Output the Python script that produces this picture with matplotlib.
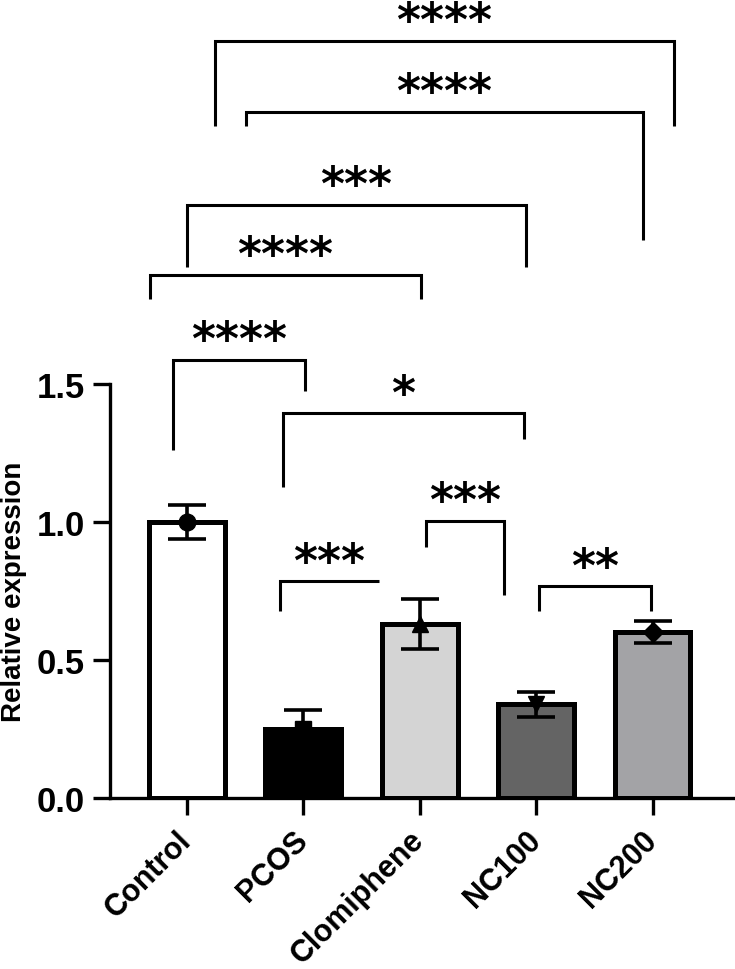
import numpy as np
import matplotlib.pyplot as plt
import matplotlib.transforms as mtransforms

# data
groups = ['Control', 'PCOS', 'Clomiphene', 'NC100', 'NC200']
means = [1.00, 0.25, 0.63, 0.34, 0.60]
errs = [0.06, 0.07, 0.09, 0.045, 0.04]
colors = ['#ffffff', '#000000', '#d4d4d4', '#646464', '#a3a3a6']
markers = ['o', 's', '^', 'v', 'D']

# significance brackets: x1, x2, top, left leg end, right leg end, label
brackets = [
    (0.24, 4.18, 2.743, 2.435, 2.435, '****'),
    (0.506, 3.914, 2.486, 2.435, 2.022, '****'),
    (0.0, 2.91, 2.149, 1.924, 1.924, '***'),
    (-0.318, 2.009, 1.895, 1.808, 1.808, '****'),
    (-0.12, 1.013, 1.587, 1.261, 1.475, '****'),
    (0.824, 2.893, 1.394, 1.127, 1.30, '*'),
    (0.80, 1.648, 0.786, 0.678, 0.786, '***'),
    (2.052, 2.72, 1.004, 0.909, 0.736, '***'),
    (3.02, 3.99, 0.768, 0.678, 0.678, '**'),
]

plt.rcParams['font.family'] = ['Liberation Sans', 'DejaVu Sans']
plt.rcParams['font.weight'] = 'bold'

fig = plt.figure(figsize=(7.35, 9.7), dpi=100)
ax = fig.add_axes([110 / 735, 171 / 970, 623 / 735, 799 / 970])

x = np.arange(len(groups))
ax.bar(x, means, width=0.65, color=colors, edgecolor='black', linewidth=3.6, zorder=2)
for i in range(len(groups)):
    ax.errorbar(x[i], means[i], yerr=errs[i], fmt=markers[i], color='black',
                markersize=12 if markers[i] != 'D' else 10, elinewidth=2.6,
                capsize=14, capthick=2.6, zorder=3)

# brackets with stars
for x1, x2, top, l_end, r_end, label in brackets:
    ax.plot([x1, x1, x2, x2], [l_end, top, top, r_end], color='black',
            linewidth=2.2, solid_capstyle='butt', solid_joinstyle='miter', zorder=1)
    ax.text((x1 + x2) / 2, top + 0.02, label, ha='center', va='baseline',
            fontsize=33, fontweight='bold', family='DejaVu Sans')

ax.set_xlim(-0.66, 4.69)
ax.set_ylim(0, 2.895)
ax.set_yticks([0, 0.5, 1.0, 1.5])
ax.set_yticklabels(['0.0', '0.5', '1.0', '1.5'], fontsize=25, fontweight='bold')
ax.set_xticks(x)
ax.set_xticklabels(groups, rotation=45, ha='right', va='center', rotation_mode='anchor',
                   fontsize=22, fontweight='bold')
shift = mtransforms.ScaledTranslation(-2 / 100, 0, fig.dpi_scale_trans)
for lab in ax.get_xticklabels():
    lab.set_transform(lab.get_transform() + shift)
ax.set_ylabel('Relative expression', fontsize=20, fontweight='bold')
ax.yaxis.set_label_coords(-0.133, 0.259)

ax.spines['top'].set_visible(False)
ax.spines['right'].set_visible(False)
ax.spines['left'].set_bounds(0, 1.5)
ax.spines['left'].set_linewidth(2.4)
ax.spines['bottom'].set_linewidth(2.4)
ax.tick_params(axis='both', width=2.4, length=12)
ax.tick_params(axis='y', pad=6)
ax.tick_params(axis='x', pad=15)

plt.savefig('out.png', dpi=100)
